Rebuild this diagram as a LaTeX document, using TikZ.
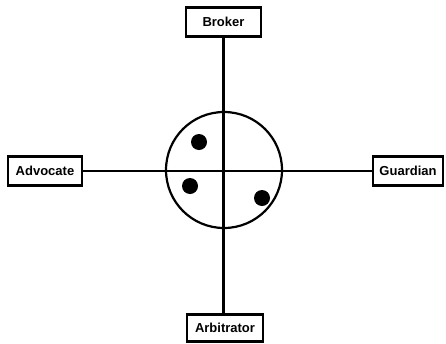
\documentclass[tikz,border=0pt]{standalone}
\usepackage{fontspec}
\setmainfont{Liberation Sans}
\begin{document}
\begin{tikzpicture}[x=1pt,y=-1pt,
  role/.style={draw,line width=2.2pt,fill=white,inner sep=0pt,font=\bfseries\fontsize{13}{14}\selectfont},
  axis/.style={line width=2.4pt},
  dot/.style={circle,fill=black,inner sep=0pt,minimum size=16pt}]
\useasboundingbox (0,0) rectangle (446,343);
\node[role,minimum width=75pt,minimum height=29pt] (broker) at (223.5,22) {Broker};
\node[role,minimum width=74pt,minimum height=29pt] (advocate) at (45,171) {Advocate};
\node[role,minimum width=70pt,minimum height=29pt] (guardian) at (408,171) {Guardian};
\node[role,minimum width=76pt,minimum height=27pt] (arbitrator) at (225,328) {Arbitrator};
\coordinate (c) at (224,170);
\draw[axis] (broker.south) -- (broker.south |- arbitrator.north);
\draw[axis] (advocate.east) -- (guardian.west |- advocate.east);
\node[draw,circle,line width=2.2pt,minimum size=116pt,inner sep=0pt] (ring) at (c) {};
\node[dot] (d1) at (199,142) {};
\node[dot] (d2) at (190,186) {};
\node[dot] (d3) at (262,198) {};
\end{tikzpicture}
\end{document}
